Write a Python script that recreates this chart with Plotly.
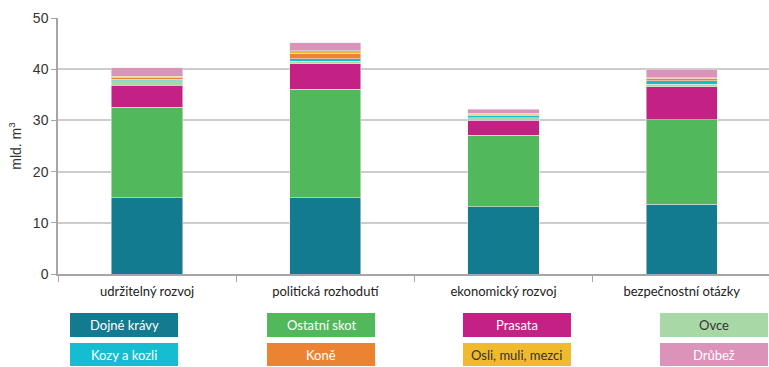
import plotly.graph_objects as go

categories = ["udržitelný rozvoj", "politická rozhodutí", "ekonomický rozvoj", "bezpečnostní otázky"]

dojne_kravy = [14.9, 14.9, 13.1, 13.6]
ostatni_skot = [17.7, 21.2, 14.0, 16.5]
prasata = [4.3, 5.0, 2.9, 6.5]
ovce = [0.8, 0.5, 0.5, 0.5]
kozy_a_kozli = [0.33, 0.4, 0.5, 0.65]
kone = [0.3, 1.1, 0.1, 0.45]
osli_muli_mezci = [0.27, 0.5, 0.25, 0.15]
drubez = [1.7, 1.6, 0.85, 1.6]

series = [
    ("Dojné krávy", dojne_kravy, "#137B8F", "white"),
    ("Ostatní skot", ostatni_skot, "#51B95B", "white"),
    ("Prasata", prasata, "#C42185", "white"),
    ("Ovce", ovce, "#A8D8A6", "#333333"),
    ("Kozy a kozli", kozy_a_kozli, "#14BDD0", "white"),
    ("Koně", kone, "#EB8332", "white"),
    ("Osli, muli, mezci", osli_muli_mezci, "#F0BA2E", "#333333"),
    ("Drůbež", drubez, "#DB93BA", "white"),
]

# legend grid order (row-major): 2 rows x 4 columns
legend_order = ["Dojné krávy", "Ostatní skot", "Prasata", "Ovce",
                "Kozy a kozli", "Koně", "Osli, muli, mezci", "Drůbež"]

fig = go.Figure()
for name, vals, color, _ in series:
    fig.add_trace(go.Bar(
        x=categories, y=vals, name=name, width=0.4,
        marker=dict(color=color, line=dict(color="rgba(235,235,235,0.9)", width=0.6)),
        showlegend=False,
    ))

# custom box legend
col_x = [(0.0169, 0.1688), (0.294, 0.446), (0.5696, 0.7215), (0.8467, 0.9986)]
row_y = [(-0.152, -0.246), (-0.270, -0.359)]
lookup = {s[0]: s for s in series}
shapes = []
annotations = []
for i, nm in enumerate(legend_order):
    r, c = divmod(i, 4)
    _, _, color, tcolor = lookup[nm]
    x0, x1 = col_x[c]
    y0, y1 = row_y[r]
    shapes.append(dict(type="rect", xref="paper", yref="paper", x0=x0, x1=x1, y0=y1, y1=y0,
                       fillcolor=color, line=dict(width=0), layer="above"))
    annotations.append(dict(xref="paper", yref="paper", x=(x0 + x1) / 2, y=(y0 + y1) / 2,
                            text=nm, showarrow=False, xanchor="center", yanchor="middle",
                            font=dict(family="Lato", size=13, color=tcolor)))

fig.update_layout(
    width=769, height=367,
    margin=dict(l=58, r=0, t=18, b=93),
    paper_bgcolor="white", plot_bgcolor="white",
    barmode="stack",
    showlegend=False,
    shapes=shapes,
    annotations=annotations,
    xaxis=dict(
        range=[-0.5, 3.49],
        showline=True, linecolor="#a6a6a6", linewidth=2,
        ticks="outside", tickson="boundaries", ticklen=6, tickcolor="#a6a6a6", tickwidth=1,
        tickfont=dict(family="Lato", size=13, color="#222222"),
        ticklabelstandoff=4,
        showgrid=False,
    ),
    yaxis=dict(
        range=[0, 50], dtick=10,
        showline=True, linecolor="#a6a6a6", linewidth=1.5,
        ticks="outside", ticklen=5, tickcolor="#a6a6a6",
        showgrid=True, gridcolor="#cdcdcd", gridwidth=2,
        zeroline=False,
        tickfont=dict(family="Liberation Sans", size=14, color="#333333"),
        title=dict(text="mld. m<sup>3</sup>", font=dict(family="Liberation Sans", size=14, color="#333333"), standoff=8),
    ),
    font=dict(family="Liberation Sans"),
)

fig.write_html("out.html")
